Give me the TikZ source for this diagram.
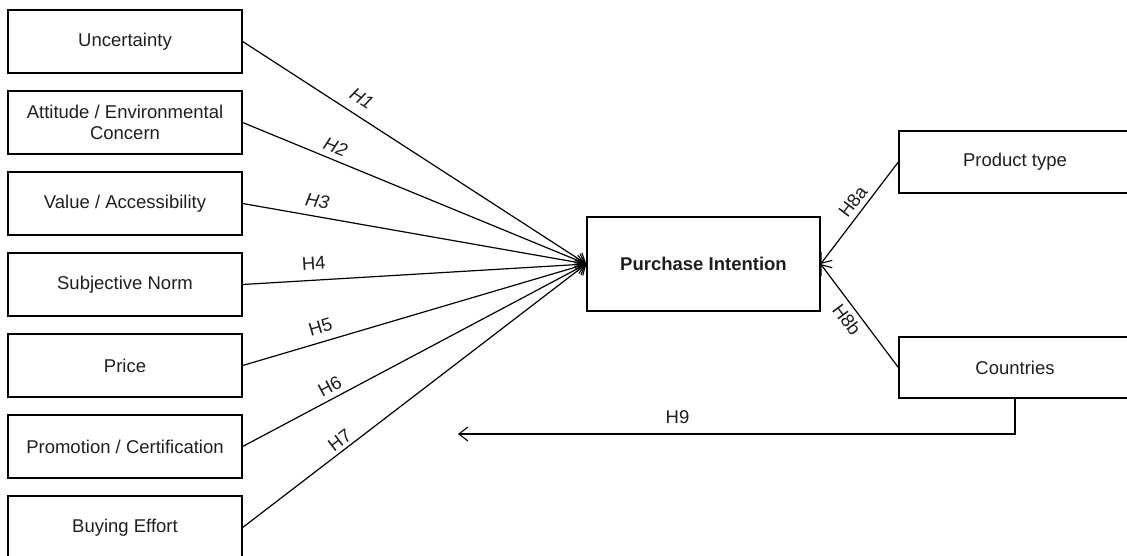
\documentclass[tikz,border=0pt]{standalone}
\usepackage{fontspec}
\setmainfont{Liberation Sans}
\usetikzlibrary{arrows.meta}
\begin{document}
\begin{tikzpicture}[x=1pt,y=1pt,
  txt/.style={font=\fontsize{18.5}{21}\selectfont, text=black!88},
  box/.style={txt, draw, line width=1.3pt, minimum width=234pt, minimum height=63pt, inner sep=2pt, align=center},
  link/.style={line width=1.2pt, -{Straight Barb[length=9pt,width=14pt,line width=1.1pt]}},
  hl/.style={txt, inner sep=0pt, sloped},
  hli/.style={hl, font=\fontsize{18.5}{21}\selectfont\itshape}]
\useasboundingbox (0,0) rectangle (1127,-556);
\clip (0,0) rectangle (1127,-556);
% left column
\node[box] (unc)  at (125,-41.5)  {Uncertainty};
\node[box] (att)  at (125,-122.5) {Attitude / Environmental\\Concern};
\node[box] (val)  at (125,-203.5) {Value / Accessibility};
\node[box] (sub)  at (125,-284.5) {Subjective Norm};
\node[box] (pri)  at (125,-365.5) {Price};
\node[box] (pro)  at (125,-446.5) {Promotion / Certification};
\node[box] (buy)  at (125,-527.5) {Buying Effort};
% centre and right
\node[box, minimum width=233pt, minimum height=94pt, font=\fontsize{18.5}{21}\selectfont\bfseries] (pi) at (703.5,-264) {Purchase Intention};
\node[box, minimum width=232pt, minimum height=62pt] (prod) at (1015,-162) {Product type};
\node[box, minimum width=232pt, minimum height=61pt] (cty) at (1015,-367.5) {Countries};
\coordinate (h9end) at (458,-434);
% connectors
\draw[link] (unc.east) -- node[hli, pos=0.32, above=10pt] {H1} (pi.west);
\draw[link] (att.east) -- node[hli, pos=0.256, above=6pt] {H2} (pi.west);
\draw[link] (val.east) -- node[hli, pos=0.21, above=8pt] {H3} (pi.west);
\draw[link] (sub.east) -- node[hl, pos=0.21, above=10pt] {H4} (pi.west);
\draw[link] (pri.east) -- node[hl, pos=0.238, above=7.5pt] {H5} (pi.west);
\draw[link] (pro.east) -- node[hl, pos=0.27, above=5pt] {H6} (pi.west);
\draw[link] (buy.east) -- node[hl, pos=0.30, above=3pt] {H7} (pi.west);
\draw[link] (prod.west) -- node[hl, pos=0.46, above=5pt] {H8a} (pi.east);
\draw[link] (cty.west) -- node[hl, pos=0.534, below=5pt] {H8b} (pi.east);
\draw[link] (cty.south) |- node[hl, pos=0.803, above=9.5pt] {H9} (h9end);
\end{tikzpicture}
\end{document}
